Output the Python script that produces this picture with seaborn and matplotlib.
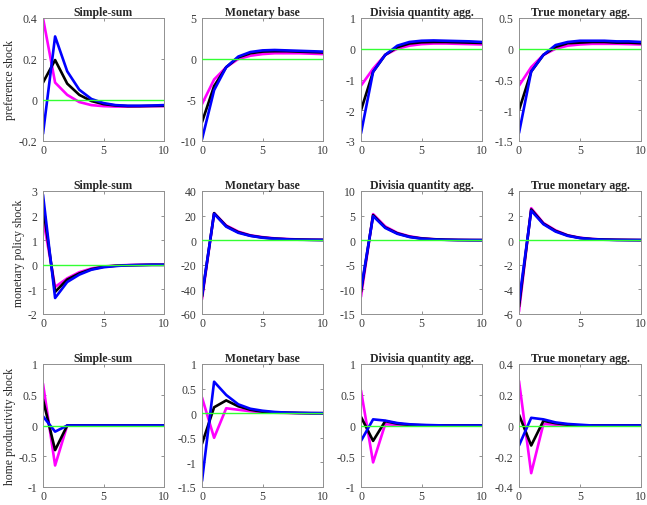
import matplotlib
matplotlib.use("Agg")
import matplotlib.pyplot as plt
import matplotlib.ticker as mticker
import seaborn as sns
import numpy as np

# horizons 0..10
horizon = list(range(11))

titles = ["Simple-sum", "Monetary base", "Divisia quantity agg.", "True monetary agg."]
row_labels = ["preference shock", "monetary policy shock", "home productivity shock"]

# preference shock: magenta, black, blue
pref_ss_m = [0.40, 0.085, 0.025, -0.01, -0.025, -0.030, -0.032, -0.032, -0.031, -0.030, -0.030]
pref_ss_k = [0.085, 0.195, 0.080, 0.025, -0.005, -0.020, -0.027, -0.030, -0.030, -0.029, -0.028]
pref_ss_b = [-0.165, 0.31, 0.14, 0.05, 0.005, -0.015, -0.025, -0.028, -0.028, -0.027, -0.025]
pref_mb_m = [-5.5, -2.5, -1.0, 0.0, 0.4, 0.6, 0.7, 0.7, 0.7, 0.65, 0.6]
pref_mb_k = [-7.7, -3.3, -1.0, 0.2, 0.7, 0.9, 0.95, 0.95, 0.9, 0.85, 0.8]
pref_mb_b = [-9.8, -3.8, -1.0, 0.3, 0.85, 1.05, 1.1, 1.05, 1.0, 0.95, 0.9]
pref_dq_m = [-1.2, -0.65, -0.2, 0.0, 0.1, 0.15, 0.17, 0.17, 0.16, 0.15, 0.14]
pref_dq_k = [-2.0, -0.75, -0.2, 0.05, 0.17, 0.21, 0.22, 0.22, 0.21, 0.20, 0.19]
pref_dq_b = [-2.75, -0.75, -0.2, 0.10, 0.22, 0.26, 0.27, 0.26, 0.25, 0.24, 0.22]
pref_tm_m = [-0.6, -0.3, -0.1, 0.0, 0.05, 0.07, 0.08, 0.08, 0.08, 0.075, 0.07]
pref_tm_k = [-1.0, -0.37, -0.1, 0.03, 0.09, 0.10, 0.11, 0.11, 0.10, 0.10, 0.09]
pref_tm_b = [-1.37, -0.37, -0.1, 0.06, 0.11, 0.13, 0.13, 0.13, 0.12, 0.12, 0.11]

# monetary policy shock
mp_ss_m = [1.9, -0.9, -0.55, -0.3, -0.15, -0.07, -0.03, -0.01, 0.0, 0.0, 0.0]
mp_ss_k = [2.4, -1.1, -0.6, -0.35, -0.18, -0.08, -0.04, -0.02, -0.01, 0.0, 0.0]
mp_ss_b = [2.85, -1.35, -0.7, -0.4, -0.2, -0.1, -0.05, -0.02, -0.01, 0.0, 0.0]
mp_mb_m = [-48, 22, 12, 7, 4, 2.5, 1.5, 1.0, 0.6, 0.4, 0.3]
mp_mb_k = [-46, 22, 11.5, 6.5, 3.7, 2.2, 1.3, 0.8, 0.5, 0.3, 0.2]
mp_mb_b = [-45, 21.5, 11, 6, 3.5, 2.0, 1.2, 0.7, 0.4, 0.3, 0.2]
mp_dq_m = [-11.5, 5.3, 2.8, 1.5, 0.8, 0.4, 0.2, 0.1, 0.05, 0.03, 0.02]
mp_dq_k = [-10.5, 5.1, 2.6, 1.4, 0.7, 0.35, 0.2, 0.1, 0.05, 0.03, 0.02]
mp_dq_b = [-10.0, 4.9, 2.5, 1.3, 0.65, 0.3, 0.15, 0.08, 0.04, 0.02, 0.01]
mp_tm_m = [-5.8, 2.6, 1.4, 0.8, 0.4, 0.2, 0.1, 0.05, 0.03, 0.02, 0.01]
mp_tm_k = [-5.4, 2.5, 1.35, 0.75, 0.38, 0.18, 0.09, 0.05, 0.03, 0.02, 0.01]
mp_tm_b = [-5.0, 2.4, 1.3, 0.7, 0.35, 0.17, 0.08, 0.04, 0.02, 0.01, 0.01]

# home productivity shock
hp_ss_m = [0.68, -0.65, 0.0, 0.0, 0.0, 0.0, 0.0, 0.0, 0.0, 0.0, 0.0]
hp_ss_k = [0.42, -0.40, 0.0, 0.0, 0.0, 0.0, 0.0, 0.0, 0.0, 0.0, 0.0]
hp_ss_b = [0.15, -0.10, 0.0, 0.0, 0.0, 0.0, 0.0, 0.0, 0.0, 0.0, 0.0]
hp_mb_m = [0.32, -0.5, 0.1, 0.07, 0.04, 0.02, 0.01, 0.005, 0.0, 0.0, 0.0]
hp_mb_k = [-0.62, 0.12, 0.26, 0.14, 0.07, 0.03, 0.015, 0.01, 0.005, 0.0, 0.0]
hp_mb_b = [-1.38, 0.64, 0.37, 0.18, 0.09, 0.05, 0.025, 0.012, 0.006, 0.003, 0.0]
hp_dq_m = [0.57, -0.6, 0.02, 0.01, 0.0, 0.0, 0.0, 0.0, 0.0, 0.0, 0.0]
hp_dq_k = [0.14, -0.25, 0.07, 0.03, 0.01, 0.005, 0.0, 0.0, 0.0, 0.0, 0.0]
hp_dq_b = [-0.25, 0.10, 0.08, 0.04, 0.02, 0.01, 0.005, 0.0, 0.0, 0.0, 0.0]
hp_tm_m = [0.29, -0.31, 0.01, 0.005, 0.0, 0.0, 0.0, 0.0, 0.0, 0.0, 0.0]
hp_tm_k = [0.07, -0.13, 0.03, 0.015, 0.005, 0.0, 0.0, 0.0, 0.0, 0.0, 0.0]
hp_tm_b = [-0.13, 0.05, 0.04, 0.02, 0.01, 0.005, 0.0, 0.0, 0.0, 0.0, 0.0]

panels = [
    [(pref_ss_m, pref_ss_k, pref_ss_b), (pref_mb_m, pref_mb_k, pref_mb_b),
     (pref_dq_m, pref_dq_k, pref_dq_b), (pref_tm_m, pref_tm_k, pref_tm_b)],
    [(mp_ss_m, mp_ss_k, mp_ss_b), (mp_mb_m, mp_mb_k, mp_mb_b),
     (mp_dq_m, mp_dq_k, mp_dq_b), (mp_tm_m, mp_tm_k, mp_tm_b)],
    [(hp_ss_m, hp_ss_k, hp_ss_b), (hp_mb_m, hp_mb_k, hp_mb_b),
     (hp_dq_m, hp_dq_k, hp_dq_b), (hp_tm_m, hp_tm_k, hp_tm_b)],
]

ylims = [
    [(-0.2, 0.4, 0.2), (-10, 5, 5), (-3, 1, 1), (-1.5, 0.5, 0.5)],
    [(-2, 3, 1), (-60, 40, 20), (-15, 10, 5), (-6, 4, 2)],
    [(-1, 1, 0.5), (-1.5, 1, 0.5), (-1, 1, 0.5), (-0.4, 0.4, 0.2)],
]

line_colors = ["#ff00ff", "#000000", "#0000ff"]

sns.set_style("white")
plt.rcParams["font.family"] = ["Liberation Serif", "DejaVu Serif"]
plt.rcParams["axes.unicode_minus"] = False

fig = plt.figure(figsize=(6.47, 5.06), dpi=100)
W, H = 647.0, 506.0
lefts = [43, 202, 361, 519]
widths = [121, 121, 121, 122]
tops = [19, 192, 365]
height = 123

for r in range(3):
    for c in range(4):
        ax = fig.add_axes([lefts[c] / W, 1 - (tops[r] + height) / H, widths[c] / W, height / H])
        for vals, col in zip(panels[r][c], line_colors):
            sns.lineplot(x=horizon, y=vals, color=col, linewidth=1.9, ax=ax)
        ax.axhline(0, color="#33ff33", linewidth=1.0, zorder=5)
        lo, hi, step = ylims[r][c]
        ax.set_xlim(0, 10)
        ax.set_ylim(lo, hi)
        ax.set_xticks([0, 5, 10])
        ax.set_yticks(np.arange(lo, hi + step / 2, step))
        ax.yaxis.set_major_formatter(mticker.FuncFormatter(lambda v, p: "%g" % round(v, 6)))
        ax.tick_params(direction="in", length=2.5, width=0.6, colors="#808080",
                       labelcolor="#3a3a3a", labelsize=8.5, top=True, right=True,
                       bottom=True, left=True)
        ax.tick_params(axis="y", pad=4)
        ax.tick_params(axis="x", pad=2.5)
        for s in ax.spines.values():
            s.set_color("#909090")
            s.set_linewidth(0.7)
        ax.set_title(titles[c], fontsize=8.5, fontweight="bold", pad=2)
        ax.set_xlabel("")
        if c == 0:
            ax.set_ylabel(row_labels[r], fontsize=8.5, labelpad=2)
        else:
            ax.set_ylabel("")

fig.savefig("out.png", dpi=100)
